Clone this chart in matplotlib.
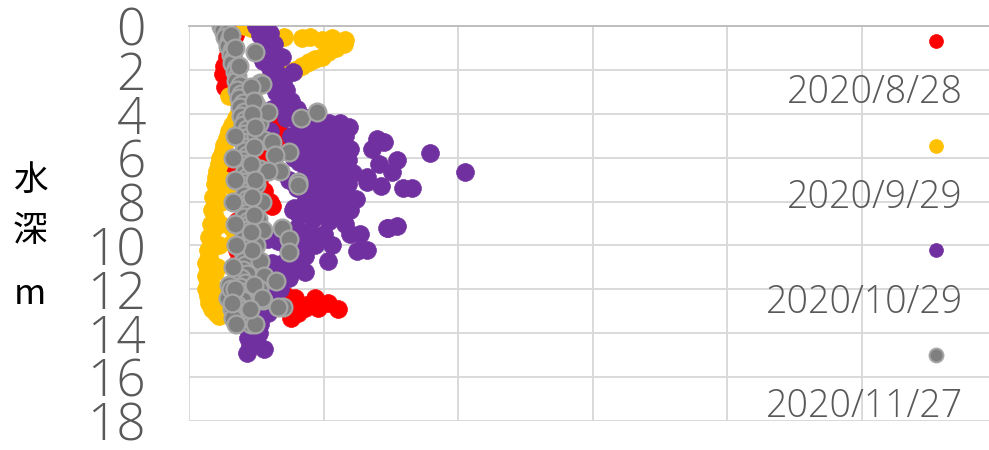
import matplotlib.pyplot as plt
from matplotlib import font_manager

# depth profiles (x value, depth in m)
labels = ["2020/8/28", "2020/9/29", "2020/10/29", "2020/11/27"]

red_x = [3.6, 3.2, 3.4, 3.0, 3.3, 2.9, 3.2, 2.8, 3.1, 2.6, 2.9, 2.5, 2.8, 3.0, 2.7,
         3.2, 3.5, 3.8, 4.2, 4.6, 5.0, 5.6, 6.2, 5.4, 6.6, 5.8, 7.0, 6.4, 7.4, 5.6,
         6.8, 6.0, 5.2, 3.2, 4.8, 5.4, 4.6, 5.2, 4.4, 5.6, 3.8, 6.0, 6.2, 4.2, 5.0,
         3.6, 4.8, 5.4, 3.8, 4.6, 3.6, 4.4, 3.6, 4.0, 4.8, 3.8, 5.0, 5.8, 6.6, 7.2,
         7.9, 8.8, 9.4, 10.3, 11.1, 7.6, 8.6, 9.6, 8.1, 4.6, 4.2]
red_depth = [0.0, 0.2, 0.4, 0.6, 0.8, 1.0, 1.2, 1.4, 1.6, 1.8, 2.0, 2.2, 2.4, 2.6, 2.8,
             3.0, 3.2, 3.4, 3.6, 3.8, 4.0, 4.2, 4.4, 4.5, 4.7, 4.9, 5.0, 5.2, 5.3, 5.5,
             5.6, 5.8, 6.0, 6.8, 6.2, 6.5, 6.8, 7.0, 7.3, 7.5, 7.8, 8.0, 8.2, 8.4, 8.6,
             8.9, 9.1, 9.3, 9.6, 9.9, 10.2, 10.5, 10.8, 11.0, 11.3, 11.5, 11.7, 11.9, 12.1, 12.3,
             12.4, 12.7, 12.4, 12.6, 12.9, 13.3, 12.85, 12.85, 13.1, 12.4, 12.9]

yellow_x = [4.2, 4.6, 7.1, 8.4, 9.0, 9.9, 10.6, 11.6, 11.5, 10.9, 10.3, 9.9, 9.4, 8.9, 8.4,
            7.9, 7.1, 6.3, 5.8, 5.3, 4.7, 4.3, 4.0, 3.7, 3.5, 3.2, 3.0, 2.8, 2.6, 2.5,
            2.3, 2.2, 2.1, 2.0, 1.9, 2.1, 1.8, 1.9, 1.7, 1.9, 1.6, 1.8, 1.5, 1.7, 1.4,
            1.5, 1.3, 1.4, 1.3, 1.4, 1.3, 1.4, 1.5, 1.7, 2.0, 2.2, 3.0, 2.6, 2.4, 2.3,
            2.2, 2.1, 3.3, 3.2, 3.2, 2.5, 2.7, 2.0, 1.9]
yellow_depth = [0.0, 0.1, 0.5, 0.55, 0.5, 0.65, 0.55, 0.65, 0.8, 1.0, 1.2, 1.4, 1.5, 1.65, 1.8,
                2.0, 2.2, 2.35, 2.5, 2.7, 3.0, 3.3, 3.6, 3.9, 4.2, 4.5, 4.8, 5.1, 5.4, 5.7,
                6.0, 6.3, 6.6, 6.9, 7.2, 7.5, 7.8, 8.1, 8.4, 8.7, 9.0, 9.3, 9.6, 9.9, 10.2,
                10.5, 10.8, 11.1, 11.4, 11.7, 12.0, 12.3, 12.6, 12.9, 13.1, 13.2, 3.2, 7.0, 8.0, 9.0,
                10.0, 11.0, 7.35, 9.2, 9.9, 12.4, 12.9, 12.0, 11.2]

purple_x = [5.0, 5.6, 6.0, 5.3, 5.8, 6.3, 5.5, 6.1, 6.9, 5.7, 6.4, 7.7, 6.0, 6.6, 7.0,
            6.3, 7.2, 6.8, 7.6, 7.0, 8.0, 7.4, 8.4, 8.2, 9.0, 10.0, 11.2, 11.9, 8.6, 9.6,
            10.6, 11.4, 8.0, 9.2, 10.2, 11.0, 12.0, 14.0, 14.5, 13.6, 17.9, 8.5, 9.5, 10.6, 11.8,
            15.5, 14.1, 8.2, 9.0, 10.0, 11.2, 12.2, 15.1, 20.5, 13.2, 8.6, 9.6, 10.8, 11.8, 13.2,
            14.3, 15.9, 16.6, 8.0, 9.2, 10.2, 11.4, 12.4, 8.6, 9.8, 10.8, 12.0, 8.2, 9.2, 10.4,
            11.6, 14.8, 15.5, 8.0, 9.0, 10.0, 12.0, 12.7, 8.4, 9.4, 10.6, 12.5, 7.6, 8.6, 10.3,
            7.0, 8.2, 8.6, 6.4, 7.4, 5.8, 6.8, 5.6, 6.2, 5.4, 5.9, 4.8, 5.3, 4.6, 5.2,
            4.4, 5.0, 4.5, 5.6, 4.3, 7.7, 14.7, 13.2, 6.2, 6.0, 5.9, 7.2,
            7.2, 8.0, 8.8, 9.6, 10.4, 7.6, 8.4, 9.2, 10.0, 10.8, 11.6, 7.8, 8.6, 9.4, 10.2,
            11.0, 7.4, 8.2, 9.0, 9.8, 10.6, 7.8, 8.6, 9.4, 10.2, 11.0, 6.6, 7.4, 8.2, 6.2,
            7.0, 5.5, 6.5, 7.3]
purple_depth = [0.0, 0.1, 0.3, 0.4, 0.6, 0.8, 0.9, 1.1, 1.4, 1.3, 1.6, 2.1, 1.9, 2.2, 2.5,
                2.7, 2.9, 3.2, 3.4, 3.6, 3.8, 4.0, 4.2, 4.4, 4.5, 4.6, 4.4, 4.6, 4.8, 4.9,
                5.0, 5.1, 5.2, 5.3, 5.4, 5.5, 5.6, 5.15, 5.3, 5.6, 5.8, 5.7, 5.9, 6.0, 6.1,
                6.1, 6.3, 6.2, 6.4, 6.5, 6.6, 6.7, 6.65, 6.65, 6.9, 6.9, 7.0, 7.1, 7.2, 7.1,
                7.3, 7.4, 7.4, 7.4, 7.6, 7.7, 7.8, 7.9, 8.0, 8.2, 8.3, 8.4, 8.6, 8.8, 8.9,
                9.0, 9.2, 9.1, 9.2, 9.4, 9.5, 9.5, 9.5, 9.8, 10.0, 10.0, 10.25, 10.3, 10.5, 10.7,
                10.8, 11.0, 11.2, 11.3, 11.5, 11.8, 12.0, 12.3, 12.6, 12.9, 13.1, 13.4, 13.6, 13.8, 14.0,
                14.2, 14.4, 14.6, 14.7, 14.9, 8.4, 9.2, 10.2, 3.8, 4.8, 9.7, 10.0,
                4.2, 4.3, 4.2, 4.3, 4.4, 5.0, 5.1, 5.0, 5.2, 5.3, 5.0, 6.0, 6.1, 6.2, 6.3,
                6.4, 7.0, 7.2, 7.3, 7.4, 7.5, 8.3, 8.4, 8.5, 8.6, 8.7, 9.8, 10.2, 10.0, 10.8,
                11.2, 1.6, 3.0, 3.9]

gray_x = [2.4, 2.6, 2.5, 2.8, 2.7, 3.0, 2.9, 3.2, 3.1, 3.3, 3.2, 3.5, 3.4, 3.6, 3.5,
          3.8, 3.6, 3.9, 3.7, 4.0, 3.8, 4.1, 3.9, 4.2, 4.0, 4.3, 4.1, 4.2, 4.0, 4.4,
          4.1, 4.3, 4.0, 4.2, 4.4, 4.1, 4.3, 4.0, 4.2, 4.4, 4.1, 4.3, 4.2, 4.0, 4.3,
          4.1, 4.4, 4.2, 4.0, 4.3, 4.1, 4.4, 4.2, 4.0, 4.3, 4.1, 4.2, 4.0, 4.3, 3.9,
          4.2, 3.8, 4.1, 3.7, 4.0, 3.6, 3.9, 3.8, 4.0,
          4.9, 5.3, 5.0, 5.2, 5.0, 5.6, 5.3, 5.0, 5.4, 5.1, 5.5, 5.0, 5.3, 5.6, 5.2,
          5.5, 3.0, 2.9, 3.2, 3.3, 4.6, 3.1, 4.8,
          5.4, 5.9, 8.3, 9.5, 6.2, 7.4, 6.4, 6.8, 5.9, 8.1, 8.1, 6.9, 7.4, 7.4, 6.5,
          7.0, 6.6, 5.4, 4.9,
          3.1, 3.4, 3.7, 4.6, 4.8, 4.7, 4.9, 4.8, 4.6, 4.9, 4.7, 4.8, 4.6, 4.7, 3.4,
          3.3, 3.4, 3.3, 3.4, 3.5, 3.3, 3.4, 3.2, 4.5, 3.5]
gray_depth = [0.0, 0.1, 0.2, 0.3, 0.5, 0.7, 0.9, 1.1, 1.3, 1.5, 1.7, 1.9, 2.1, 2.3, 2.5,
              2.7, 2.9, 3.1, 3.3, 3.5, 3.7, 3.9, 4.1, 4.3, 4.5, 4.7, 4.9, 5.1, 5.3, 5.5,
              5.7, 5.9, 6.1, 6.3, 6.5, 6.7, 6.9, 7.1, 7.3, 7.5, 7.7, 7.9, 8.1, 8.3, 8.5,
              8.7, 8.9, 9.1, 9.3, 9.5, 9.7, 9.9, 10.1, 10.3, 10.5, 10.7, 10.9, 11.1, 11.3, 11.5,
              11.7, 11.9, 12.1, 12.3, 12.5, 12.7, 12.9, 13.1, 13.3,
              1.2, 2.6, 3.6, 4.4, 5.0, 5.2, 6.5, 7.2, 8.0, 8.8, 9.3, 10.0, 10.7, 11.4, 12.0,
              12.5, 11.8, 12.4, 12.9, 13.3, 13.6, 12.0, 11.8,
              2.65, 3.9, 4.2, 3.9, 5.3, 5.75, 5.9, 6.6, 6.6, 7.1, 7.25, 9.2, 9.7, 10.3, 11.6,
              12.8, 12.8, 12.4, 13.6,
              0.4, 1.0, 1.8, 2.8, 3.4, 4.0, 4.6, 5.5, 6.3, 7.0, 7.8, 8.6, 9.4, 10.2, 5.0,
              6.0, 7.0, 8.0, 9.0, 10.0, 11.0, 12.0, 12.6, 12.9, 13.6]

depth_ticks = [0, 2, 4, 6, 8, 10, 12, 14, 16, 18]

colors = ["#ff0000", "#ffc000", "#7030a0", "#7f7f7f"]
edges = ["#ff0000", "#ffc000", "#7030a0", "#a5a5a5"]

names = {f.name for f in font_manager.fontManager.ttflist}
num_font = "Open Sans" if "Open Sans" in names else "DejaVu Sans"

fig = plt.figure(figsize=(9.89, 4.5), dpi=100)
ax = fig.add_axes([189 / 989, 1 - 421 / 450, 1 - 189 / 989, (421 - 26) / 450])

series = [(red_x, red_depth), (yellow_x, yellow_depth),
          (purple_x, purple_depth), (gray_x, gray_depth)]
for i, (xs, ds) in enumerate(series):
    ax.scatter(xs, ds, s=165, c=colors[i], edgecolors=edges[i],
               linewidths=1.6 if i == 3 else 0.5, zorder=3 + i)

ax.set_xlim(0, (989 - 189) / 13.45)
ax.set_ylim(18, 0)
ax.set_xticks([0, 10, 20, 30, 40, 50])
ax.set_yticks(depth_ticks)
ax.set_xticklabels([])
ax.set_yticklabels([str(t) for t in depth_ticks], fontsize=37, color="#595959",
                   family=num_font, fontweight="light")
ax.tick_params(axis="both", length=0)
ax.tick_params(axis="y", pad=31)
ax.grid(True, color="#d9d9d9", linewidth=1.4, zorder=0)
ax.set_axisbelow(True)
for side in ["right", "bottom", "left"]:
    ax.spines[side].set_visible(False)
ax.spines["top"].set_color("#bfbfbf")
ax.spines["top"].set_linewidth(1.4)

# legend: marker above each label
for i, lab in enumerate(labels):
    my = 41 + i * 104.7
    ax.scatter([(936 - 189) / 13.45], [(my - 26) / 21.94], s=100, c=colors[i],
               edgecolors=edges[i], linewidths=1.4 if i == 3 else 0.5,
               clip_on=False, zorder=10)
    fig.text(963 / 989, 1 - (my + 52) / 450, lab, ha="right", va="center",
             fontsize=27, color="#595959", family=num_font, fontweight="light")

for ch, cy in zip(["水", "深", "m"], [180, 232, 294]):
    fig.text(30 / 989, 1 - cy / 450, ch, ha="center", va="center", fontsize=25,
             color="black", family=["Noto Sans CJK JP", "DejaVu Sans"])

fig.savefig("out.png", dpi=100)
